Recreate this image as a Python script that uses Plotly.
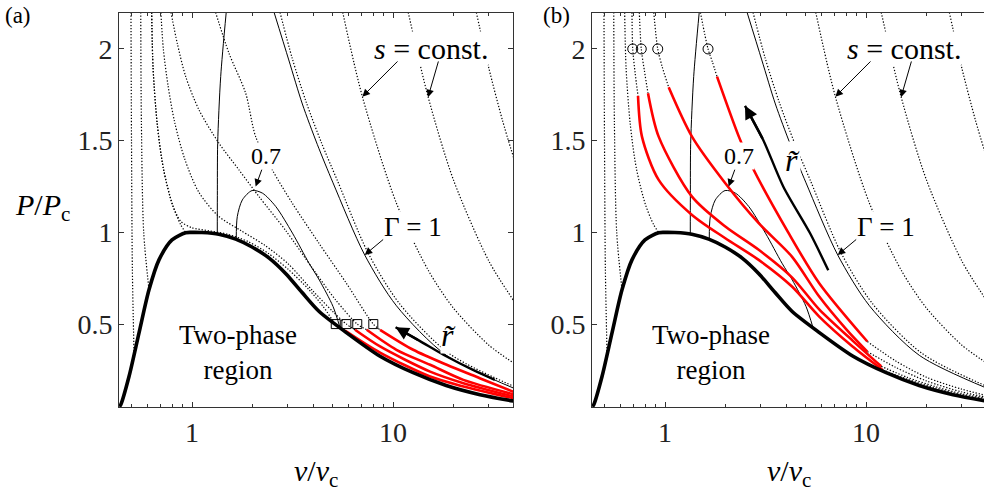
import math
import plotly.graph_objects as go

# ---------------- data (v/vc, P/Pc) ----------------
v_dome = [0.435, 0.442, 0.486, 0.545, 0.611, 0.685, 0.795, 0.93, 1.0, 1.12, 1.36, 1.65, 1.99,
          2.42, 2.93, 3.53, 4.28, 5.84, 8.62, 12.6, 18.4, 27.1, 40]
P_dome = [0.05, 0.06, 0.214, 0.452, 0.687, 0.85, 0.959, 0.998, 1.0, 0.999, 0.99, 0.963, 0.92,
          0.86, 0.775, 0.672, 0.57, 0.455, 0.325, 0.235, 0.165, 0.115, 0.08]

v_g07 = [1.66, 1.68, 1.78, 1.99, 2.24, 2.61, 3.16, 3.82, 4.3, 5.03, 5.45]
P_g07 = [0.962, 1.086, 1.177, 1.228, 1.214, 1.141, 0.996, 0.832, 0.74, 0.596, 0.48]

v_g1 = [2.56, 3.03, 3.54, 4.2, 5.03, 7.23, 10.4, 18.4, 40]
P_g1 = [2.2, 1.94, 1.70, 1.48, 1.27, 0.877, 0.6, 0.33, 0.15]

v_g0 = [1.336, 1.337, 1.342, 1.389, 1.48]
P_g0 = [0.993, 1.2, 1.486, 1.849, 2.2]

# isentropes common to both panels
s_L1 = ([0.497, 0.50, 0.505, 0.515], [2.2, 1.5, 0.8, 0.33])
s_L2 = ([0.556, 0.56, 0.575, 0.611], [2.2, 1.6, 1.0, 0.687])
s_L3 = ([0.63, 0.64, 0.67, 0.72, 0.80, 0.88, 0.93], [2.2, 1.9, 1.6, 1.35, 1.15, 1.04, 1.0])
s_A = ([5.62, 7.04, 10.4, 15, 20, 30, 40], [2.2, 1.74, 1.159, 0.792, 0.587, 0.385, 0.286])
s_B = ([11.9, 14.94, 20, 30, 40], [2.2, 1.74, 1.285, 0.843, 0.625])
s_C = ([25.97, 30, 35, 40], [2.2, 1.894, 1.613, 1.40])
s_L7 = ([2.74, 3.15, 3.7, 4.4, 5.3, 7.5, 10.8, 19, 40], [2.2, 1.95, 1.71, 1.49, 1.28, 0.89, 0.61, 0.34, 0.16])

# panel (a) isentropes ending at the squares
sa1 = ([0.63, 0.64, 0.67, 0.72, 0.80, 0.88, 1.0, 1.2, 1.5, 1.9, 2.4, 3.0, 3.8, 4.5, 5.19, 5.77],
       [2.2, 1.9, 1.6, 1.35, 1.15, 1.06, 1.025, 1.01, 0.99, 0.95, 0.885, 0.8, 0.69, 0.595, 0.5, 0.465])
sa2 = ([0.70, 0.72, 0.76, 0.82, 0.92, 1.08, 1.35, 1.75, 2.3, 3.0, 4.0, 5.0, 5.86, 6.47],
       [2.2, 2.0, 1.8, 1.6, 1.4, 1.22, 1.09, 1.01, 0.93, 0.83, 0.68, 0.57, 0.5, 0.469])
sa3 = ([0.786, 0.845, 0.93, 1.083, 1.362, 1.714, 2.154, 2.926, 4.0, 5.2, 6.64, 7.40],
       [2.2, 2.03, 1.85, 1.668, 1.486, 1.34, 1.195, 1.01, 0.8, 0.63, 0.5, 0.469])
sa4 = ([1.31, 1.527, 1.849, 2.073, 2.51, 3.155, 4.28, 5.86, 7.98, 8.62],
       [2.2, 1.977, 1.759, 1.522, 1.34, 1.159, 0.941, 0.723, 0.5, 0.469])

red_a = [
    ([5.77, 8.62, 15.3, 22.4, 40], [0.465, 0.345, 0.214, 0.16, 0.095]),
    ([6.47, 8.62, 15.3, 22.4, 40], [0.469, 0.378, 0.241, 0.178, 0.105]),
    ([7.40, 10.4, 15.3, 22.4, 40], [0.469, 0.36, 0.278, 0.196, 0.117]),
    ([8.62, 12.6, 18.5, 27.0, 40], [0.469, 0.36, 0.278, 0.205, 0.13]),
]
sq_v = [5.19, 5.86, 6.64, 7.98]
sq_P = [0.5, 0.5, 0.5, 0.5]

# panel (b) isentropes through the circles
sb = [
    ([0.685, 0.691, 0.71, 0.734], [2.2, 2.0, 1.87, 1.744]),
    ([0.745, 0.762, 0.79, 0.823], [2.2, 2.0, 1.88, 1.759]),
    ([0.879, 0.92, 0.97, 1.043], [2.2, 2.0, 1.9, 1.791]),
    ([1.50, 1.637, 1.72, 1.815], [2.2, 2.0, 1.93, 1.849]),
]
cb = [
    ([12.1, 16, 22, 30, 40], [0.25, 0.2, 0.152, 0.115, 0.09]),
    ([11.9, 16, 22, 30, 40], [0.27, 0.21, 0.16, 0.12, 0.095]),
    ([10.15, 14, 20, 30, 40], [0.35, 0.265, 0.19, 0.13, 0.1]),
    ([10.15, 14, 20, 30, 40], [0.405, 0.3, 0.21, 0.145, 0.11]),
]
red_b = [
    ([0.734, 0.768, 0.93, 1.362, 1.995, 2.925, 4.28, 5.85, 8.57, 12.1],
     [1.744, 1.522, 1.286, 1.095, 0.968, 0.85, 0.705, 0.541, 0.378, 0.25]),
    ([0.823, 0.93, 1.362, 1.995, 2.925, 4.28, 5.85, 8.57, 11.9],
     [1.759, 1.522, 1.195, 1.032, 0.905, 0.755, 0.58, 0.41, 0.27]),
    ([1.043, 1.362, 1.995, 2.925, 4.28, 5.85, 8.0, 10.15],
     [1.791, 1.522, 1.268, 1.05, 0.868, 0.65, 0.47, 0.35]),
    ([1.815, 2.33, 2.71, 4.1, 5.85, 10.15],
     [1.849, 1.522, 1.359, 1.0, 0.723, 0.405]),
]
ci_v = [0.691, 0.762, 0.920, 1.637]
ci_P = [2.0, 2.0, 2.0, 2.0]

arrow_a = ([32.1, 25, 18.5, 13.5, 10.3], [0.196, 0.25, 0.323, 0.41, 0.483])
arrow_b = ([6.49, 5.27, 3.88, 3.08, 2.50], [0.793, 0.995, 1.249, 1.504, 1.69])

x_ticks = [1, 10]
x_ticktext = ["1", "10"]
x_minor = [0.5, 0.6, 0.7, 0.8, 0.9, 2, 3, 4, 5, 6, 7, 8, 9, 20, 30, 40]
y_ticks = [0.5, 1, 1.5, 2]
y_ticktext = ["0.5", "1", "1.5", "2"]

# ---------------------------------------------------------------------------
FONT = "Liberation Serif"
AX = "#333333"
DOT = "1.3px,1.8px"

fig = go.Figure()


def line(v, P, k, color="black", width=1.0, dash="solid"):
    fig.add_trace(go.Scatter(
        x=v, y=P, mode="lines",
        line=dict(color=color, width=width, dash=dash, shape="spline", smoothing=0.8),
        xaxis="x" if k == 1 else "x2", yaxis="y" if k == 1 else "y2",
        hoverinfo="skip", showlegend=False))


for k in (1, 2):
    for s in (s_L1, s_L2, s_L3, s_A, s_B, s_C, s_L7):
        line(*s, k, width=1.2, dash=DOT)
for s in (sa1, sa2, sa3, sa4):
    line(*s, 1, width=1.2, dash=DOT)
for s in sb + cb:
    line(*s, 2, width=1.2, dash=DOT)

for k in (1, 2):
    line(v_g0, P_g0, k, width=1)
    line(v_g07, P_g07, k, width=1)
    line(v_g1, P_g1, k, width=1)

for r in red_a:
    line(*r, 1, color="#ff0000", width=2.6)
for r in red_b:
    line(*r, 2, color="#ff0000", width=2.6)

line(*arrow_a, 1, width=2.4)
line(*arrow_b, 2, width=2.4)

for k in (1, 2):
    line(v_dome, P_dome, k, width=3.6)

fig.add_trace(go.Scatter(x=sq_v, y=sq_P, mode="markers", xaxis="x", yaxis="y",
                         marker=dict(symbol="square-open", size=9, color="black", line=dict(width=1)),
                         hoverinfo="skip", showlegend=False))
fig.add_trace(go.Scatter(x=ci_v, y=ci_P, mode="markers", xaxis="x2", yaxis="y2",
                         marker=dict(symbol="circle-open", size=10, color="black", line=dict(width=1)),
                         hoverinfo="skip", showlegend=False))

L = math.log10
ann = []


def arrow(k, xt, yt, xh, yh, width=1.0, size=1.5, head=2):
    xs = "x" if k == 1 else "x2"
    ys = "y" if k == 1 else "y2"
    ann.append(dict(x=L(xh), y=yh, ax=L(xt), ay=yt, xref=xs, yref=ys, axref=xs, ayref=ys,
                    text="", showarrow=True, arrowhead=head, arrowsize=size, arrowwidth=width,
                    arrowcolor="black", standoff=0))


def label(k, x, y, text, size, bg=True, anchor="center"):
    xs = "x" if k == 1 else "x2"
    ys = "y" if k == 1 else "y2"
    ann.append(dict(x=L(x), y=y, xref=xs, yref=ys, text=text, showarrow=False,
                    xanchor=anchor,
                    font=dict(family=FONT, size=size, color="black"),
                    bgcolor="white" if bg else "rgba(0,0,0,0)", borderpad=0))


for k in (1, 2):
    label(k, 7.95, 2.005, "<i>s</i> = const.", 30, anchor="left")
    arrow(k, 10.71, 1.94, 7.04, 1.74)
    arrow(k, 16.9, 1.94, 14.94, 1.737)
    label(k, 12.58, 1.03, "Γ = 1", 27)
    arrow(k, 9.09, 0.968, 7.23, 0.877)
    label(k, 2.335, 1.417, "0.7", 24)
    arrow(k, 2.238, 1.35, 2.073, 1.25)
    label(k, 1.694, 0.343, "Two-phase<br>region", 27, bg=False)

arrow(1, arrow_a[0][-2], arrow_a[1][-2], arrow_a[0][-1], arrow_a[1][-1], width=2.4, size=1.1)
arrow(2, arrow_b[0][-2], arrow_b[1][-2], arrow_b[0][-1], arrow_b[1][-1], width=2.4, size=1.1)
label(1, 18.9, 0.441, "<i>r̃</i>", 32)
label(2, 4.33, 1.395, "<i>r̃</i>", 32)

for txt, x, y, sz, ya in [("(a)", 18, 15, 23, "middle"), ("(b)", 556, 15, 23, "middle"),
                          ("<i>P</i>/<i>P</i><sub>c</sub>", 42, 207, 30, "middle"),
                          ("<i>v</i>/<i>v</i><sub>c</sub>", 316, 452, 30, "top"),
                          ("<i>v</i>/<i>v</i><sub>c</sub>", 789, 452, 30, "top")]:
    ann.append(dict(x=x / 984, y=1 - y / 491, xref="paper", yref="paper", text=txt,
                    showarrow=False, xanchor="center", yanchor=ya,
                    font=dict(family=FONT, size=sz, color="black")))

ydom = [1 - 407 / 491, 1 - 13 / 491]
common_x = dict(type="log", tickvals=x_ticks, ticktext=x_ticktext, ticks="inside", ticklen=5,
                tickwidth=1, tickcolor=AX, showline=True, linecolor=AX, linewidth=1,
                mirror="ticks", showgrid=False, zeroline=False,
                tickfont=dict(family=FONT, size=28, color="#222222"),
                minor=dict(tickvals=x_minor, ticks="inside", ticklen=3, tickcolor=AX, showgrid=False))
common_y = dict(range=[0.048, 2.196], domain=ydom, tickvals=y_ticks, ticktext=y_ticktext,
                ticks="inside", ticklen=5, tickwidth=1, tickcolor=AX, showline=True,
                linecolor=AX, linewidth=1, showgrid=False, zeroline=False,
                tickfont=dict(family=FONT, size=28, color="#222222"))

fig.update_layout(
    width=984, height=491, margin=dict(l=0, r=0, t=0, b=0),
    paper_bgcolor="white", plot_bgcolor="white", showlegend=False,
    xaxis=dict(common_x, domain=[119 / 984, 513 / 984], range=[-0.3632, 1.597], anchor="y"),
    yaxis=dict(common_y, anchor="x", mirror="ticks"),
    xaxis2=dict(common_x, domain=[592 / 984, 1.0], range=[-0.3632, 1.587], anchor="y2"),
    yaxis2=dict(common_y, anchor="x2", mirror=False),
    annotations=ann,
)

fig.write_html("out.html")
